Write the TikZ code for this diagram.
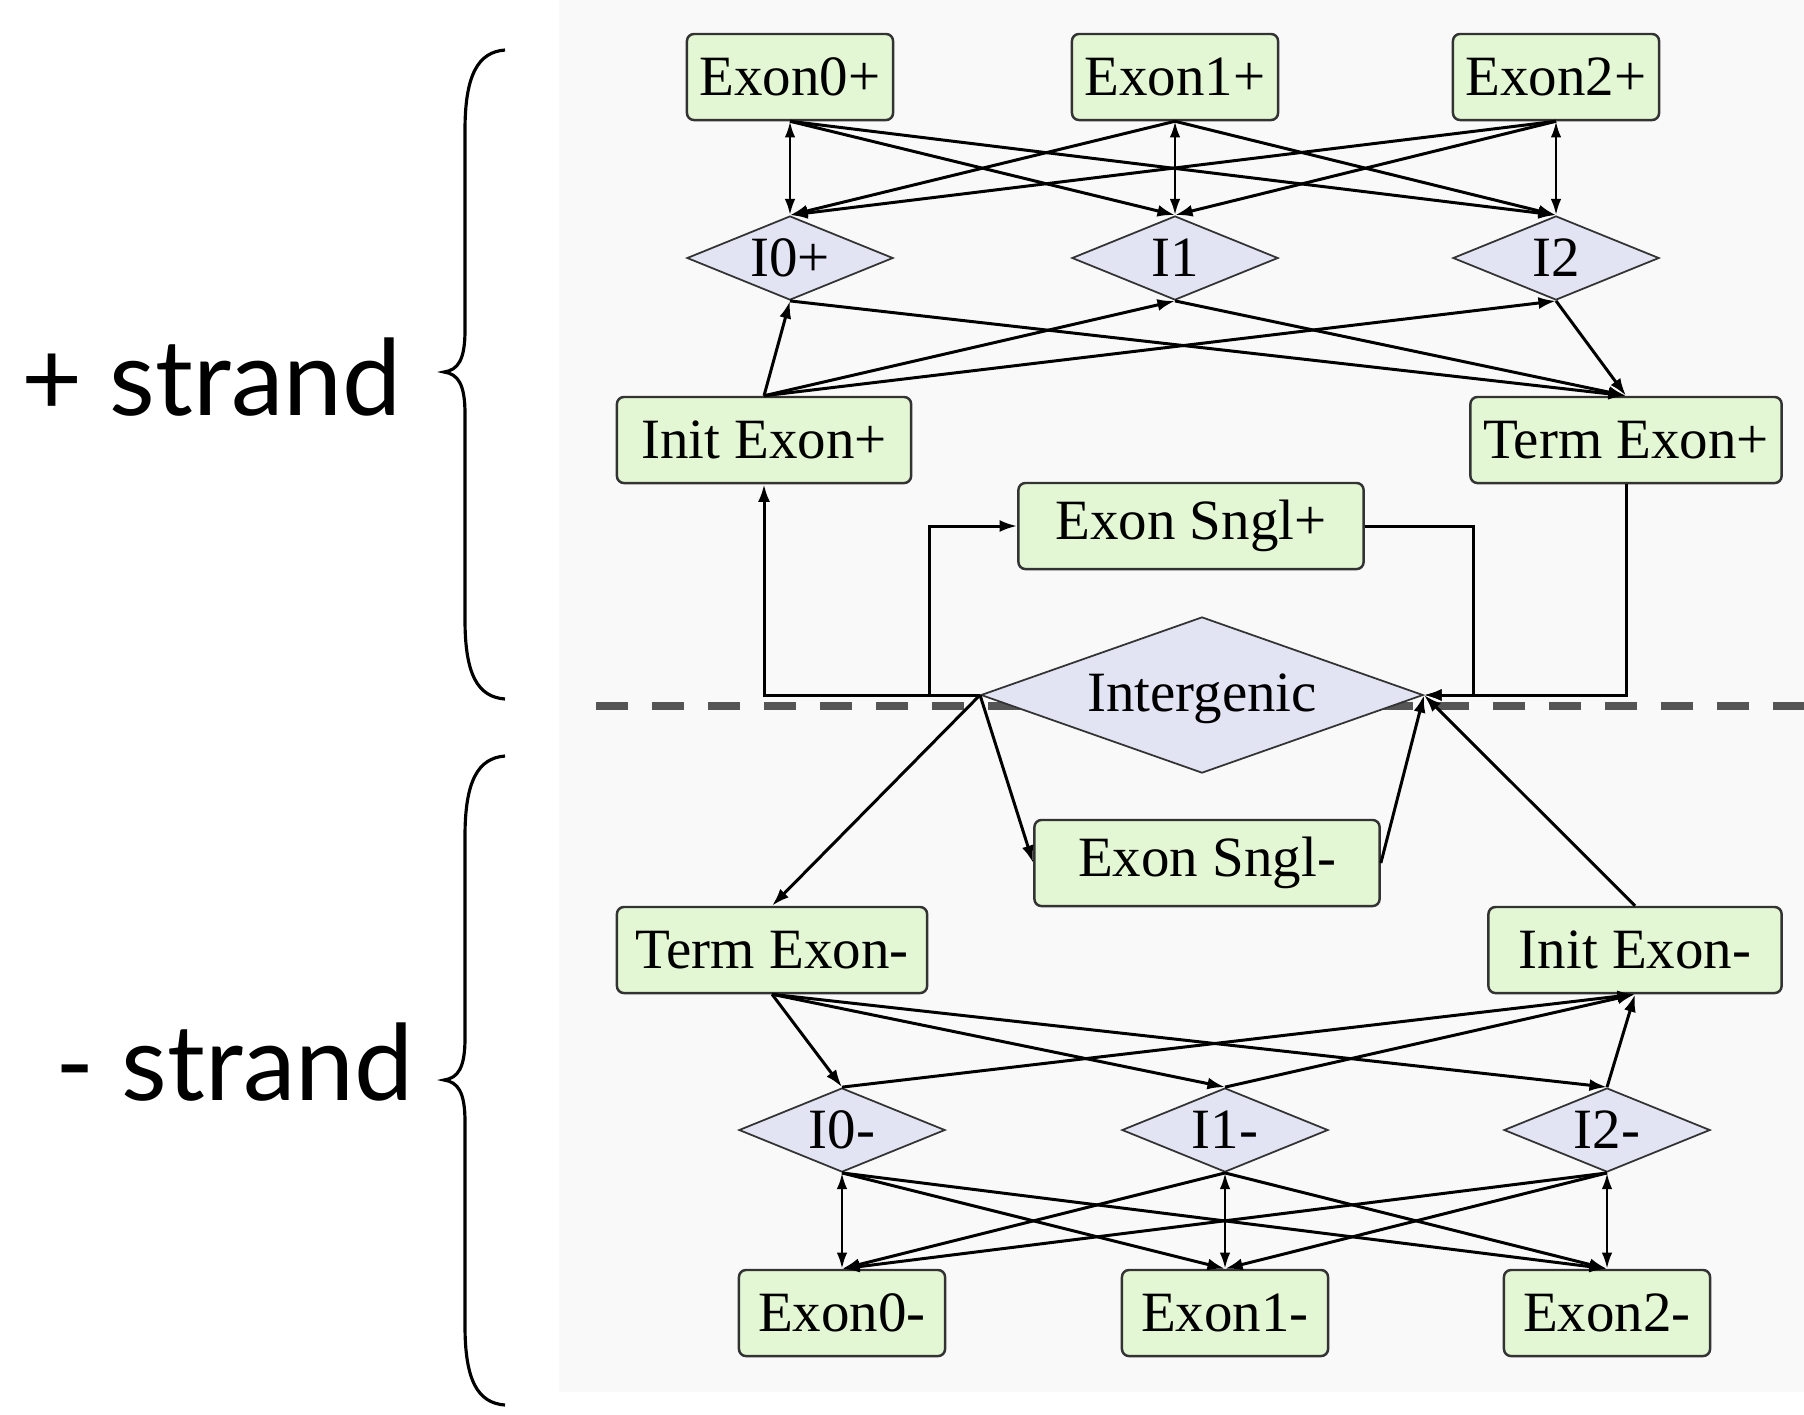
\documentclass[tikz,border=0pt]{standalone}
\usepackage{fontspec}
\setmainfont{Liberation Serif}
\newfontfamily\strandfont{Lato}
\usetikzlibrary{shapes.geometric,arrows.meta}
\definecolor{panelbg}{HTML}{F9F9F9}
\definecolor{boxgreen}{HTML}{E4F7D4}
\definecolor{diafill}{HTML}{E2E4F4}
\definecolor{dashgray}{HTML}{555555}
\tikzset{
  exbox/.style={rectangle, rounded corners=0.07cm, draw=black!80, line width=0.7pt, fill=boxgreen,
    minimum height=0.86cm, inner sep=0pt, font=\fontsize{16.2pt}{19pt}\selectfont},
  intdia/.style={diamond, draw=black!80, line width=0.5pt, fill=diafill, aspect=2.45,
    minimum width=2.06cm, minimum height=0.84cm, inner sep=0pt, font=\fontsize{16.2pt}{19pt}\selectfont},
  conn/.style={draw=black, line width=0.85pt, -{Latex[length=5pt,width=3.4pt]}},
  bconn/.style={draw=black, line width=0.75pt, {Latex[length=4.6pt,width=3pt]}-{Latex[length=4.6pt,width=3pt]}},
  bracepath/.style={draw=black, line width=0.9pt},
  strandlbl/.style={font=\strandfont\fontsize{30pt}{36pt}\selectfont, anchor=base west, inner sep=0pt}
}
\begin{document}
\begin{tikzpicture}[x=0.01cm,y=-0.01cm]
\useasboundingbox (0,0) rectangle (1804,1414);
\fill[white] (0,0) rectangle (1804,1414);
\fill[panelbg] (559,0) rectangle (1804,1392);

% dashed strand separator
\draw[dashgray, line width=2.3pt, dash pattern=on 0.32cm off 0.24cm] (596,706) -- (1804,706);

% + strand nodes
\node[exbox, minimum width=2.06cm] (E0p) at (790,77) {Exon0+};
\node[exbox, minimum width=2.06cm] (E1p) at (1175,77) {Exon1+};
\node[exbox, minimum width=2.06cm] (E2p) at (1556,77) {Exon2+};
\node[intdia] (I0p) at (790,258) {I0+};
\node[intdia] (I1p) at (1175,258) {I1};
\node[intdia] (I2p) at (1556,258) {I2};
\node[exbox, minimum width=2.94cm] (InitP) at (764,440) {Init Exon+};
\node[exbox, minimum width=3.11cm] (TermP) at (1626,440) {Term Exon+};
\node[exbox, minimum width=3.45cm] (SnglP) at (1191,526) {Exon Sngl+};

% intergenic
\node[intdia, aspect=2.8, minimum width=4.42cm, minimum height=1.56cm, text depth=0.05cm] (Inter) at (1202,695) {Intergenic};

% - strand nodes
\node[exbox, minimum width=3.45cm] (SnglM) at (1207,863) {Exon Sngl-};
\node[exbox, minimum width=3.10cm] (TermM) at (772,950) {Term Exon-};
\node[exbox, minimum width=2.93cm] (InitM) at (1635,950) {Init Exon-};
\node[intdia] (I0m) at (842,1130) {I0-};
\node[intdia] (I1m) at (1225,1130) {I1-};
\node[intdia] (I2m) at (1607,1130) {I2-};
\node[exbox, minimum width=2.06cm] (E0m) at (842,1313) {Exon0-};
\node[exbox, minimum width=2.06cm] (E1m) at (1225,1313) {Exon1-};
\node[exbox, minimum width=2.06cm] (E2m) at (1607,1313) {Exon2-};

% + strand connectors
\draw[bconn] (E0p.south) -- (I0p.north);
\draw[bconn] (E1p.south) -- (I1p.north);
\draw[bconn] (E2p.south) -- (I2p.north);
\draw[conn] (E0p.south) -- (I1p.north);
\draw[conn] (E0p.south) -- (I2p.north);
\draw[conn] (E1p.south) -- (I0p.north);
\draw[conn] (E1p.south) -- (I2p.north);
\draw[conn] (E2p.south) -- (I0p.north);
\draw[conn] (E2p.south) -- (I1p.north);
\draw[conn] (InitP.north) -- (I0p.south);
\draw[conn] (InitP.north) -- (I1p.south);
\draw[conn] (InitP.north) -- (I2p.south);
\draw[conn] (I0p.south) -- (TermP.north);
\draw[conn] (I1p.south) -- (TermP.north);
\draw[conn] (I2p.south) -- (TermP.north);

% intergenic connectors
\coordinate (sgl) at (929,695);
\coordinate (sgr) at (1473,695);
\draw[conn] (Inter.west) -| (InitP.south);
\draw[conn] (Inter.west) -- (sgl) |- (SnglP.west);
\draw[conn] (SnglP.east) -| (sgr) -- (Inter.east);
\draw[conn] (TermP.south) |- (Inter.east);
\draw[conn] (Inter.west) -- (TermM.north);
\draw[conn] (Inter.west) -- (SnglM.west);
\draw[conn] (SnglM.east) -- (Inter.east);
\draw[conn] (InitM.north) -- (Inter.east);

% - strand connectors
\draw[conn] (TermM.south) -- (I0m.north);
\draw[conn] (TermM.south) -- (I1m.north);
\draw[conn] (TermM.south) -- (I2m.north);
\draw[conn] (I0m.north) -- (InitM.south);
\draw[conn] (I1m.north) -- (InitM.south);
\draw[conn] (I2m.north) -- (InitM.south);
\draw[bconn] (I0m.south) -- (E0m.north);
\draw[bconn] (I1m.south) -- (E1m.north);
\draw[bconn] (I2m.south) -- (E2m.north);
\draw[conn] (I0m.south) -- (E1m.north);
\draw[conn] (I0m.south) -- (E2m.north);
\draw[conn] (I1m.south) -- (E0m.north);
\draw[conn] (I1m.south) -- (E2m.north);
\draw[conn] (I2m.south) -- (E0m.north);
\draw[conn] (I2m.south) -- (E1m.north);

% braces
\draw[bracepath] (505,50) .. controls (478,52) and (465,75) .. (465,130) -- (465,330)
  .. controls (465,360) and (458,370) .. (444,372) .. controls (458,374) and (465,384) .. (465,414)
  -- (465,620) .. controls (465,675) and (478,697) .. (505,699);
\draw[bracepath] (505,756) .. controls (478,758) and (465,781) .. (465,836) -- (465,1038)
  .. controls (465,1068) and (458,1078) .. (444,1080) .. controls (458,1082) and (465,1092) .. (465,1122)
  -- (465,1326) .. controls (465,1381) and (478,1403) .. (505,1405);

% strand labels
\node[strandlbl] (plbl) at (21,415) {+ strand};
\node[strandlbl] (mlbl) at (55,1100) {- strand};
\end{tikzpicture}
\end{document}
